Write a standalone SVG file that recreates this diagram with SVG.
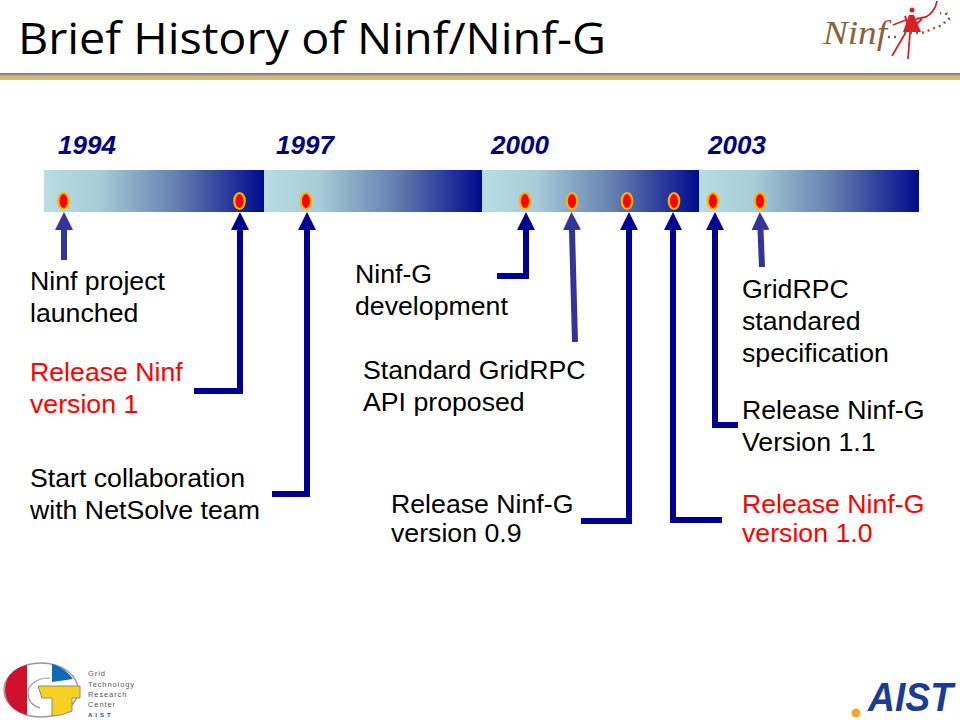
<svg xmlns="http://www.w3.org/2000/svg" width="960" height="720" viewBox="0 0 960 720">
<style>
text{font-family:"Liberation Sans",Arial,sans-serif}
.t{font-size:26.7px;fill:#000}
.r{font-size:26.7px;fill:#f00}
.y{font-size:26px;font-weight:bold;font-style:italic;fill:#000080}
.a{fill:none;stroke:#000090;stroke-width:6}
.b{fill:none;stroke:#333399;stroke-width:6}
.bar{fill:url(#g)}
.dot{fill:#f00;stroke:#ffb400;stroke-width:2.200}
.g{font-size:7.5px;fill:#555;letter-spacing:.9px}
</style>
<defs>
<linearGradient id="g"><stop offset="0" stop-color="#b8dde2"/><stop offset=".25" stop-color="#a8cdd8"/><stop offset=".6" stop-color="#6580b0"/><stop offset="1" stop-color="#000a8c"/></linearGradient>
<linearGradient id="rule" x1="0" y1="0" x2="0" y2="1"><stop offset="0" stop-color="#7a6a98"/><stop offset=".5" stop-color="#c8b890"/><stop offset="1" stop-color="#f0c020"/></linearGradient>
<marker id="h" markerUnits="userSpaceOnUse" markerWidth="18" markerHeight="18" refX="0" refY="9" orient="auto"><path d="M0 0L18 9L0 18Z" fill="#000090"/></marker>
<marker id="h2" markerUnits="userSpaceOnUse" markerWidth="18" markerHeight="18" refX="0" refY="9" orient="auto"><path d="M0 0L18 9L0 18Z" fill="#333399"/></marker>
</defs>
<rect width="960" height="720" fill="#fff"/>
<g id="header">
<text x="18" y="54" font-size="44" style='font-family:"Open Sans","DejaVu Sans",sans-serif' textLength="588" lengthAdjust="spacingAndGlyphs">Brief History of Ninf/Ninf-G</text>
<rect x="0" y="73" width="960" height="7" fill="url(#rule)"/>
</g>
<g id="ninf-logo">
<text x="823" y="44" font-size="34" font-style="italic" fill="#8a6238" style='font-family:"Liberation Serif",serif' textLength="64" lengthAdjust="spacingAndGlyphs">Ninf</text>
<path d="M910 30L905 16M910 30L922 19" stroke="#d82028" stroke-width="2" fill="none"/>
<circle cx="912" cy="10" r="2.500" fill="#d82028"/>
<path d="M909 15L914 15L921 32L903 32Z" fill="#d82028"/>
<path d="M893 25L906 20M916 19L926 17C930 15 936 9 937 1M906 32L892 56M910 32L908 59" stroke="#d82028" stroke-width="1.800" fill="none"/>
<path d="M888 37h10M904 33h18l18 -7l9 -7l-2 -5l-7 -1" stroke="#8a6238" stroke-width="2.500" stroke-dasharray="2 4" fill="none"/>
</g>
<g id="year-bars">
<rect class="bar" x="44" y="170" width="220" height="42"/>
<rect class="bar" x="264" y="170" width="218" height="42"/>
<rect class="bar" x="482" y="170" width="217" height="42"/>
<rect class="bar" x="699" y="170" width="220" height="42"/>
</g>
<g id="years">
<text class="y" x="58" y="154">1994</text>
<text class="y" x="276" y="154">1997</text>
<text class="y" x="491" y="154">2000</text>
<text class="y" x="708" y="154">2003</text>
</g>
<g id="markers">
<ellipse class="dot" cx="63.500" cy="201" rx="5.200" ry="8"/>
<ellipse class="dot" cx="239.500" cy="201" rx="5.200" ry="8"/>
<ellipse class="dot" cx="306" cy="201" rx="5.200" ry="8"/>
<ellipse class="dot" cx="525" cy="201" rx="5.200" ry="8"/>
<ellipse class="dot" cx="572" cy="201" rx="5.200" ry="8"/>
<ellipse class="dot" cx="627" cy="201" rx="5.200" ry="8"/>
<ellipse class="dot" cx="674" cy="201" rx="5.200" ry="8"/>
<ellipse class="dot" cx="713" cy="201" rx="5.200" ry="8"/>
<ellipse class="dot" cx="760" cy="201" rx="5.200" ry="8"/>
</g>
<g id="connectors">
<path class="b" marker-end="url(#h2)" d="M64 260V230"/>
<path class="a" marker-end="url(#h)" d="M194 391H240V230"/>
<path class="a" marker-end="url(#h)" d="M272 494H307V230"/>
<path class="a" marker-end="url(#h)" d="M497 276H526V230"/>
<path class="b" marker-end="url(#h2)" d="M575 342L572 230"/>
<path class="a" marker-end="url(#h)" d="M581 521H629V230"/>
<path class="a" marker-end="url(#h)" d="M722 520H673V230"/>
<path class="a" marker-end="url(#h)" d="M738 425H715V230"/>
<path class="b" marker-end="url(#h2)" d="M762 267L760.500 230"/>
</g>
<g id="labels">
<text class="t" x="30" y="290">Ninf project</text>
<text class="t" x="30" y="322">launched</text>
<text class="r" x="30" y="381">Release Ninf</text>
<text class="r" x="30" y="413">version 1</text>
<text class="t" x="30" y="487">Start collaboration</text>
<text class="t" x="30" y="519">with NetSolve team</text>
<text class="t" x="355" y="283">Ninf-G</text>
<text class="t" x="355" y="315">development</text>
<text class="t" x="363" y="379">Standard GridRPC</text>
<text class="t" x="363" y="411">API proposed</text>
<text class="t" x="391" y="513">Release Ninf-G</text>
<text class="t" x="391" y="542">version 0.9</text>
<text class="t" x="742" y="298">GridRPC</text>
<text class="t" x="742" y="330">standared</text>
<text class="t" x="742" y="362">specification</text>
<text class="t" x="742" y="419">Release Ninf-G</text>
<text class="t" x="742" y="451">Version 1.1</text>
<text class="r" x="742" y="513">Release Ninf-G</text>
<text class="r" x="742" y="542">version 1.0</text>
</g>
<g id="gtrc-logo">
<ellipse cx="41" cy="690" rx="37" ry="27" fill="#fff" stroke="#999" stroke-width="1.500"/>
<path d="M27 665C12 668 5 679 5 690C5 702 14 712 27 715Z" fill="#d0102c"/>
<path d="M52 664C60 666 68 672 73 679L52 682Z" fill="#1068b8"/>
<path d="M50 678C36 678 28 685 28 693C28 701 33 706 40 708" fill="none" stroke="#999" stroke-width="1.200"/>
<path d="M38 686H80V698H72V711C65 714 58 716 52 716V698H42Z" fill="#f8d020" stroke="#888" stroke-width="1"/>
<text class="g" x="88" y="676">Grid</text>
<text class="g" x="88" y="687">Technology</text>
<text class="g" x="88" y="697">Research</text>
<text class="g" x="88" y="707">Center</text>
<text x="88" y="717" font-size="6" font-weight="bold" fill="#1a4a9a" letter-spacing="3">AIST</text>
</g>
<g id="aist-logo">
<circle cx="856" cy="713" r="4.500" fill="#f0a830"/>
<text x="868" y="711" font-size="40" font-weight="bold" font-style="italic" fill="#1c3c94" textLength="85" lengthAdjust="spacingAndGlyphs">AIST</text>
</g>
</svg>
